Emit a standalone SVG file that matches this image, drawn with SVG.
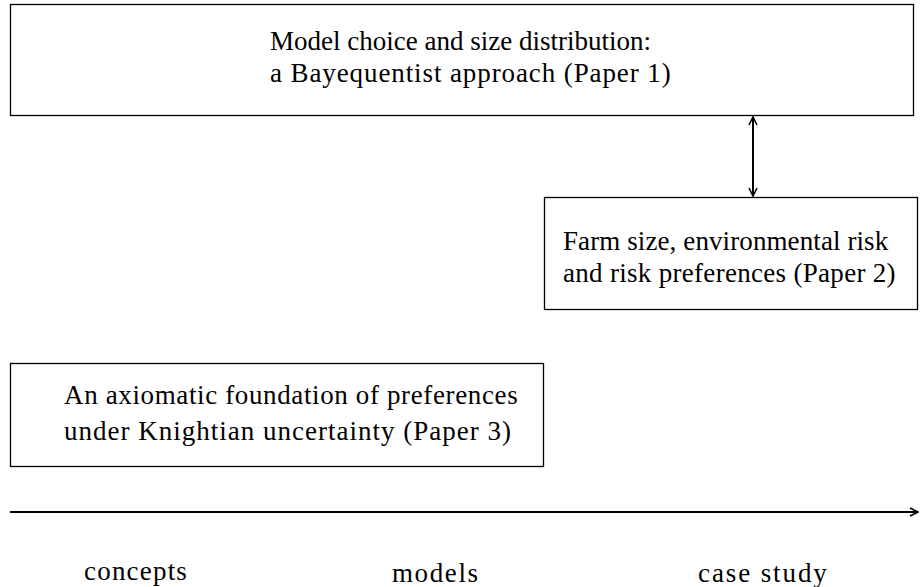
<svg xmlns="http://www.w3.org/2000/svg" width="920" height="587" viewBox="0 0 920 587">
<defs>
<style>
.box{fill:#fff;stroke:#000;stroke-width:1.3}
.t{font-family:"Liberation Serif","DejaVu Serif",serif;font-size:27px;fill:#000}
.c{stroke:#000;stroke-width:2;fill:none}
</style>
<marker id="ah" viewBox="0 0 10 10" refX="9" refY="5" markerWidth="10" markerHeight="10" markerUnits="userSpaceOnUse" orient="auto-start-reverse">
<path d="M1,1 L9,5 L1,9" fill="none" stroke="#000" stroke-width="1.6"/>
</marker>
</defs>
<rect width="920" height="587" fill="#fff"/>
<g id="paper1">
<rect class="box" x="10.5" y="4.5" width="903" height="111"/>
<text class="t" x="270" y="50">Model choice and size distribution:</text>
<text class="t" x="270" y="82" letter-spacing="0.9">a Bayequentist approach (Paper 1)</text>
</g>
<g id="paper2">
<rect class="box" x="544.5" y="197.5" width="373" height="112"/>
<text class="t" x="563" y="250" letter-spacing="0.1">Farm size, environmental risk</text>
<text class="t" x="563" y="282" letter-spacing="0.3">and risk preferences (Paper 2)</text>
</g>
<g id="paper3">
<rect class="box" x="10.5" y="363.5" width="533" height="103"/>
<text class="t" x="64" y="404" letter-spacing="0.63">An axiomatic foundation of preferences</text>
<text class="t" x="64" y="440" letter-spacing="1">under Knightian uncertainty (Paper 3)</text>
</g>
<g id="labels">
<text class="t" x="84" y="580" letter-spacing="1.2">concepts</text>
<text class="t" x="392" y="582" letter-spacing="1.6">models</text>
<text class="t" x="698" y="582" letter-spacing="1.9">case study</text>
</g>
<g id="connectors">
<line class="c" x1="753" y1="117" x2="753" y2="196" marker-start="url(#ah)" marker-end="url(#ah)"/>
<line class="c" x1="10" y1="512" x2="918" y2="512" stroke-width="2.5" marker-end="url(#ah)"/>
</g>
</svg>
